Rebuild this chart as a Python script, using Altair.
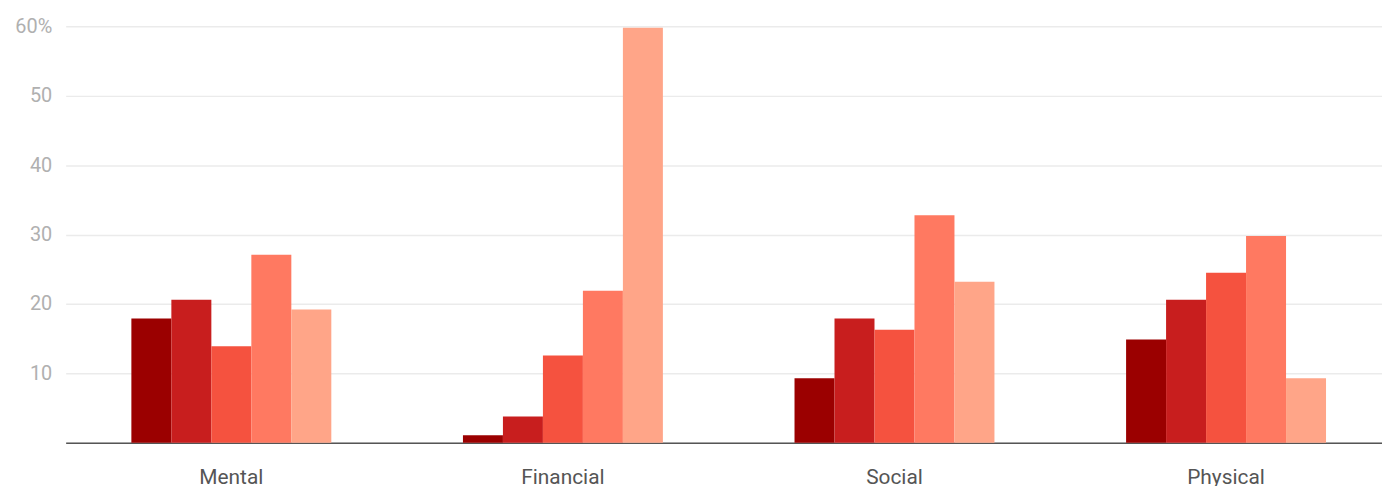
import altair as alt
import pandas as pd

categories = ["Mental", "Financial", "Social", "Physical"]
series = ["S1", "S2", "S3", "S4", "S5"]
colors = ["#9b0000", "#c81e1e", "#f5523f", "#ff7961", "#ffa588"]
values = {
    "Mental":   [17.9, 20.6, 13.9, 27.1, 19.2],
    "Financial": [1.1, 3.8, 12.6, 21.9, 59.8],
    "Social":   [9.3, 17.9, 16.3, 32.8, 23.2],
    "Physical": [14.9, 20.6, 24.5, 29.8, 9.3],
}

rows = []
for c in categories:
    for s, v in zip(series, values[c]):
        rows.append({"category": c, "series": s, "value": v})
df = pd.DataFrame(rows)

chart = alt.Chart(df).mark_bar().encode(
    x=alt.X("category:N", sort=categories,
            scale=alt.Scale(paddingInner=0.397, paddingOuter=0.1835, align=0.54),
            axis=alt.Axis(title=None, labelAngle=0, labelFont="Roboto", labelFontSize=21,
                          labelColor="#555555", labelPadding=24, ticks=False,
                          domainColor="#555555", domainWidth=1.5)),
    xOffset=alt.XOffset("series:N", sort=series),
    y=alt.Y("value:Q", scale=alt.Scale(domain=[0, 60], nice=False),
            axis=alt.Axis(title=None, values=[0, 10, 20, 30, 40, 50, 60],
                          labelExpr="datum.value == 60 ? '60%' : (datum.value == 0 ? '' : datum.label)",
                          labelFont="Roboto", labelFontSize=20, labelColor="#b0b0b0",
                          labelPadding=14, ticks=False, domain=False,
                          gridColor="#ebebeb", gridWidth=1.5)),
    color=alt.Color("series:N", sort=series,
                    scale=alt.Scale(domain=series, range=colors), legend=None),
).properties(
    width=1324, height=419,
    autosize=alt.AutoSizeParams(type="none"),
    padding={"left": 58, "top": 17, "right": 0, "bottom": 42},
).configure_view(stroke=None)

chart.save("out.html", embed_options={"renderer": "svg", "actions": False})
